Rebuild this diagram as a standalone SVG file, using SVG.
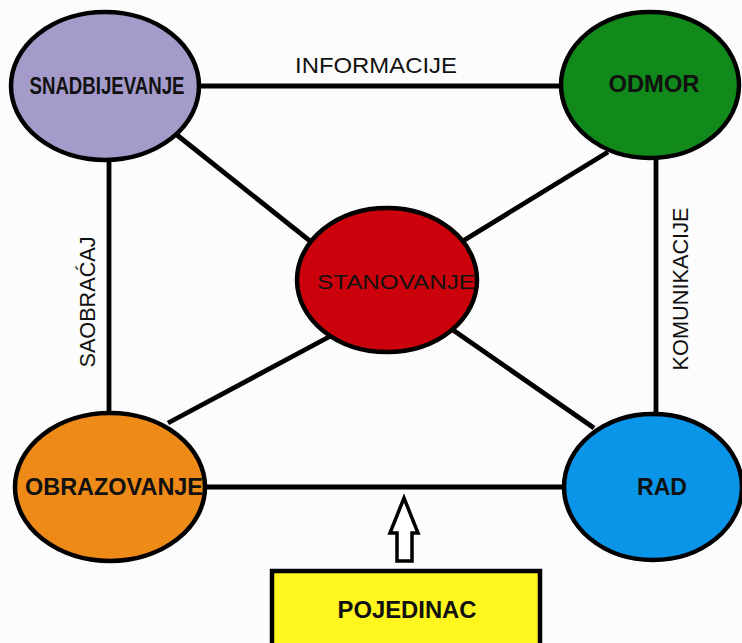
<svg xmlns="http://www.w3.org/2000/svg" width="742" height="643" viewBox="0 0 742 643">
<style>
.node{stroke:#000;stroke-width:4.5}
.lbl{font-family:"Liberation Sans",Arial,sans-serif;font-weight:bold;font-size:23px;fill:#111;text-anchor:middle}
.edge{stroke:#000;stroke-width:4.8;fill:none}
.elbl{font-family:"Liberation Sans",Arial,sans-serif;font-size:22px;fill:#111;text-anchor:middle}
</style>
<rect width="742" height="643" fill="#fcfcfc"/>
<g id="connectors">
<line class="edge" x1="195" y1="86" x2="565" y2="86"/>
<line class="edge" x1="109" y1="155" x2="109" y2="418"/>
<line class="edge" x1="656" y1="155" x2="656" y2="422"/>
<line class="edge" x1="200" y1="487" x2="568" y2="487"/>
<line class="edge" x1="177" y1="135" x2="330" y2="257"/>
<line class="edge" x1="608" y1="152" x2="440" y2="255"/>
<line class="edge" x1="168" y1="423" x2="340" y2="331"/>
<line class="edge" x1="594" y1="428" x2="440" y2="321"/>
<text class="elbl" x="376" y="73" textLength="162" lengthAdjust="spacingAndGlyphs">INFORMACIJE</text>
<text class="elbl" transform="translate(95,302) rotate(-90)" textLength="131" lengthAdjust="spacingAndGlyphs">SAOBRAĆAJ</text>
<text class="elbl" transform="translate(688,289) rotate(-90)" textLength="163" lengthAdjust="spacingAndGlyphs">KOMUNIKACIJE</text>
<polygon points="404,498 418,533 412,533 412,561 397,561 397,533 390,533" fill="#fff" stroke="#000" stroke-width="3.5" stroke-linejoin="miter"/>
</g>
<g id="snadbijevanje">
<ellipse class="node" cx="105" cy="86" rx="94" ry="74" fill="#a59bca"/>
<text class="lbl" x="107" y="94" textLength="155" lengthAdjust="spacingAndGlyphs">SNADBIJEVANJE</text>
</g>
<g id="odmor">
<ellipse class="node" cx="650" cy="85" rx="89" ry="73" fill="#118a1b"/>
<text class="lbl" x="654" y="92" textLength="91" lengthAdjust="spacingAndGlyphs">ODMOR</text>
</g>
<g id="stanovanje">
<ellipse class="node" cx="387" cy="280" rx="90" ry="72" fill="#cb020b"/>
<text class="lbl" x="396" y="289" style="font-weight:normal;font-size:21px" textLength="158" lengthAdjust="spacingAndGlyphs">STANOVANJE</text>
</g>
<g id="obrazovanje">
<ellipse class="node" cx="110" cy="487" rx="95" ry="74" fill="#ee8a17"/>
<text class="lbl" x="114" y="495" textLength="178" lengthAdjust="spacingAndGlyphs">OBRAZOVANJE</text>
</g>
<g id="rad">
<ellipse class="node" cx="653" cy="487" rx="89" ry="73" fill="#0a95e9"/>
<text class="lbl" x="662" y="495" textLength="50" lengthAdjust="spacingAndGlyphs">RAD</text>
</g>
<g id="pojedinac">
<rect x="272" y="571" width="268" height="80" fill="#fff51f" stroke="#000" stroke-width="4.5"/>
<text class="lbl" x="407" y="618" style="font-size:23px" textLength="139" lengthAdjust="spacingAndGlyphs">POJEDINAC</text>
</g>
</svg>
